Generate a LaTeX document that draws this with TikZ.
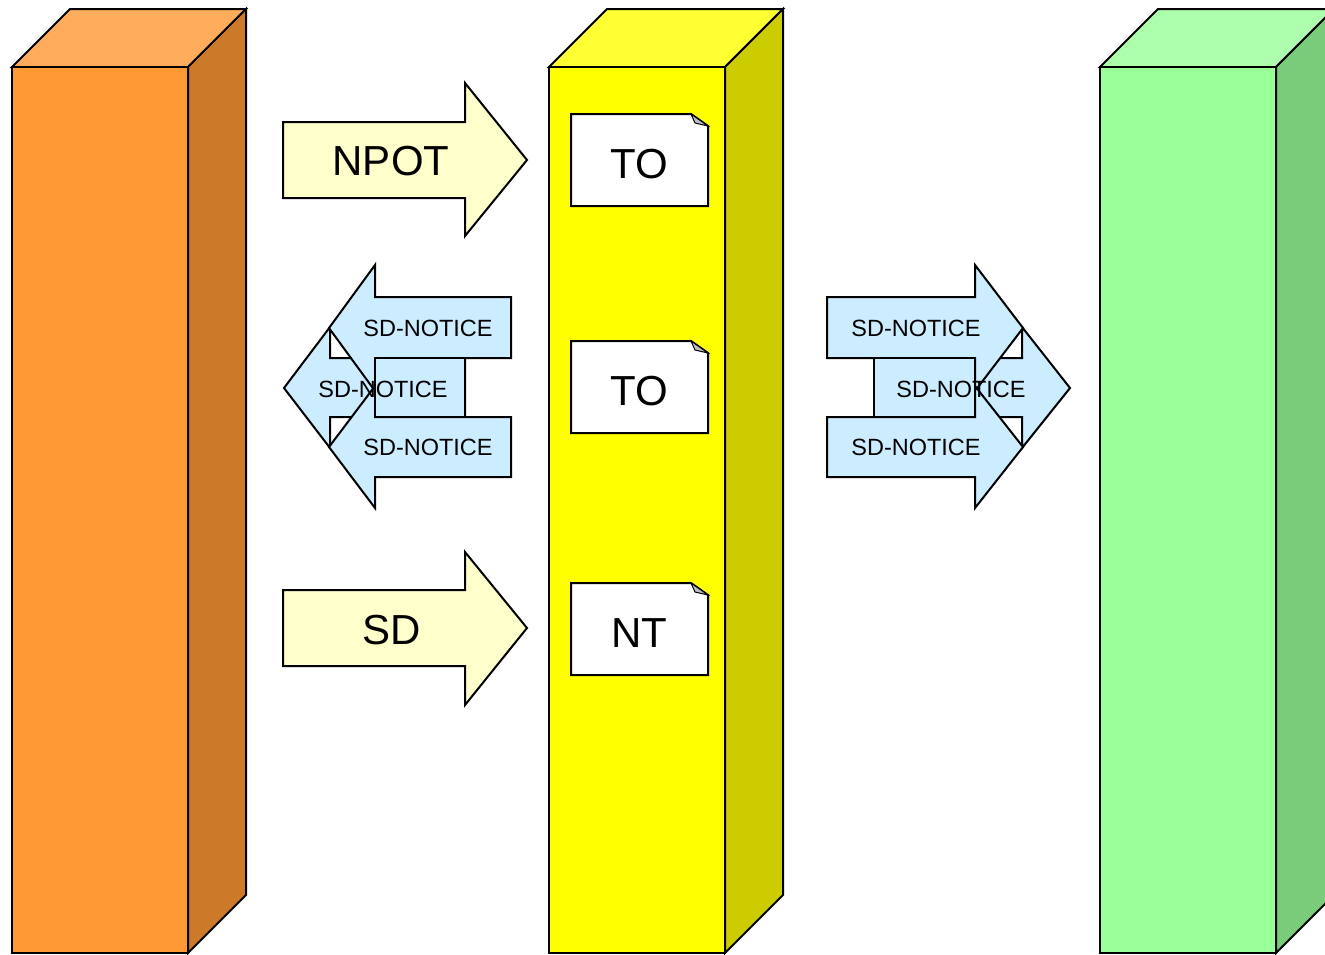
\documentclass[tikz,border=0pt]{standalone}
\usepackage{fontspec}
\setmainfont{Liberation Sans}
\definecolor{orFront}{RGB}{255,153,51}
\definecolor{orTop}{RGB}{255,173,92}
\definecolor{orSide}{RGB}{204,122,41}
\definecolor{yeFront}{RGB}{255,255,0}
\definecolor{yeTop}{RGB}{255,255,51}
\definecolor{yeSide}{RGB}{204,204,0}
\definecolor{grFront}{RGB}{153,255,153}
\definecolor{grTop}{RGB}{173,255,173}
\definecolor{grSide}{RGB}{122,204,122}
\definecolor{bigYel}{RGB}{255,255,204}
\definecolor{noticeBlue}{RGB}{204,236,255}
\definecolor{foldGray}{RGB}{192,192,192}
\begin{document}
\begin{tikzpicture}[x=1pt,y=-1pt,line width=2pt,line join=miter,
  face/.style={draw=black},
  bigarrow/.style={fill=bigYel,draw=black},
  smallarrow/.style={fill=noticeBlue,draw=black},
  bigtxt/.style={font=\fontsize{42}{48}\selectfont,inner sep=0pt},
  smalltxt/.style={font=\fontsize{23.5}{27}\selectfont,inner sep=0pt},
  docbox/.style={fill=white,draw=black},
  fold/.style={fill=foldGray,draw=black,line width=1pt}]
\useasboundingbox (0,0) rectangle (1325,954);
\clip (0,0) rectangle (1325,954);

% orange prism
\filldraw[face,fill=orTop] (12,67)--(70,9)--(246,9)--(188,67)--cycle;
\filldraw[face,fill=orSide] (188,67)--(246,9)--(246,895)--(188,953)--cycle;
\filldraw[face,fill=orFront] (12,67) rectangle (188,953);

% yellow prism
\filldraw[face,fill=yeTop] (549,67)--(607,9)--(783,9)--(725,67)--cycle;
\filldraw[face,fill=yeSide] (725,67)--(783,9)--(783,895)--(725,953)--cycle;
\filldraw[face,fill=yeFront] (549,67) rectangle (725,953);

% green prism
\filldraw[face,fill=grTop] (1100,67)--(1158,9)--(1334,9)--(1276,67)--cycle;
\filldraw[face,fill=grSide] (1276,67)--(1334,9)--(1334,895)--(1276,953)--cycle;
\filldraw[face,fill=grFront] (1100,67) rectangle (1276,953);

% big arrows
\filldraw[bigarrow] (283,122)--(465,122)--(465,83)--(527,160)--(465,236)--(465,198)--(283,198)--cycle;
\node[bigtxt] (npot) at (391,161) {NPOT};
\filldraw[bigarrow] (283,590)--(465,590)--(465,552)--(527,628)--(465,705)--(465,666)--(283,666)--cycle;
\node[bigtxt] (sd) at (392,630) {SD};

% documents
\foreach \yy/\lab/\nm in {114/TO/doca,341/TO/docb,583/NT/docc}{
  \filldraw[docbox] (571,\yy)--(691,\yy)--(708,\yy+12)--(708,\yy+92)--(571,\yy+92)--cycle;
  \filldraw[fold] (691,\yy)--(695,\yy+9)--(708,\yy+12)--cycle;
  \node[bigtxt] (\nm) at (639,\yy+50) {\lab};
}

% left notice group (pointing left)
\filldraw[smallarrow] (284,388)--(330,327)--(330,358)--(465,358)--(465,417)--(330,417)--(330,448)--cycle;
\filldraw[smallarrow] (511,297)--(375,297)--(375,265)--(329,328)--(375,391)--(375,358)--(511,358)--cycle;
\filldraw[smallarrow] (511,417)--(375,417)--(375,386)--(329,447)--(375,508)--(375,477)--(511,477)--cycle;
\filldraw[smallarrow] (375,358) rectangle (465,417);
\node[smalltxt] (ln1) at (428,328) {SD-NOTICE};
\node[smalltxt] (ln2) at (383,389) {SD-NOTICE};
\node[smalltxt] (ln3) at (428,447) {SD-NOTICE};

% right notice group (pointing right)
\filldraw[smallarrow] (1070,388)--(1022,327)--(1022,358)--(874,358)--(874,417)--(1022,417)--(1022,448)--cycle;
\filldraw[smallarrow] (827,297)--(975,297)--(975,265)--(1023,328)--(975,391)--(975,358)--(827,358)--cycle;
\filldraw[smallarrow] (827,417)--(975,417)--(975,386)--(1023,447)--(975,508)--(975,477)--(827,477)--cycle;
\filldraw[smallarrow] (874,358) rectangle (975,417);
\node[smalltxt] (rn1) at (916,328) {SD-NOTICE};
\node[smalltxt] (rn2) at (961,389) {SD-NOTICE};
\node[smalltxt] (rn3) at (916,447) {SD-NOTICE};
\end{tikzpicture}
\end{document}
